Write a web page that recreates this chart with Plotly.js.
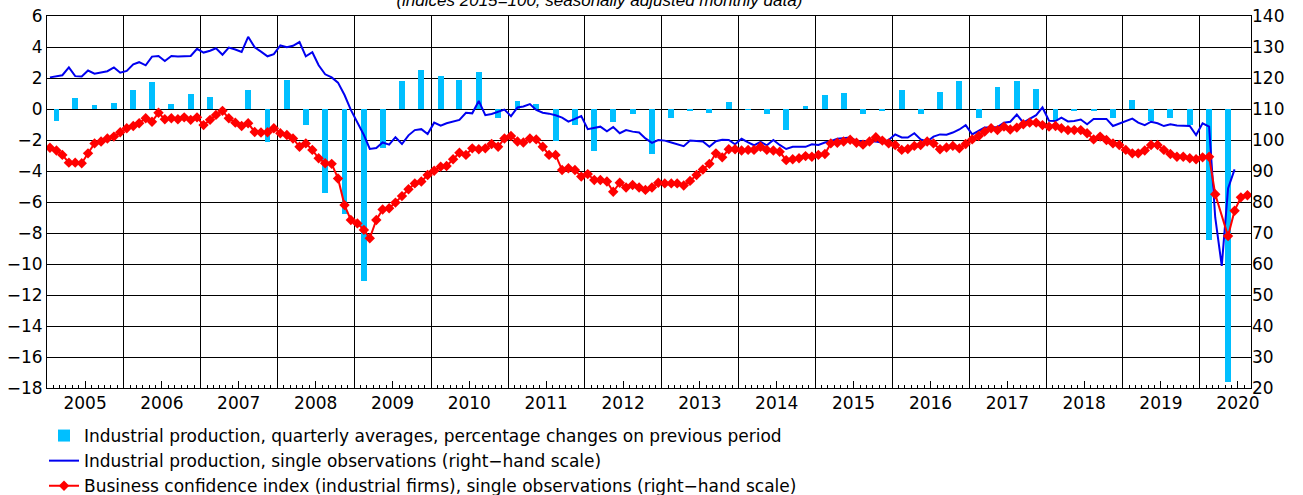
<!DOCTYPE html>
<html>
<head>
<meta charset="utf-8">
<script src="https://cdn.plot.ly/plotly-3.0.1.min.js"></script>
<style>html,body{margin:0;padding:0;background:#fff;}#chart{width:1303px;height:495px;}</style>
</head>
<body>
<div id="chart"></div>
<script>
// ---- Data ----
const startYear = 2005;
const yearLabels = ['2005','2006','2007','2008','2009','2010','2011','2012','2013','2014','2015','2016','2017','2018','2019','2020'];

// Industrial production, quarterly averages, % change on previous period (2005Q1 .. 2020Q2)
const ipQuarterlyChange = [
  -0.75, 0.7, 0.25, 0.4,
  1.2, 1.75, 0.3, 1.0,
  0.8, 0.0, 1.25, -2.1,
  1.9, -1.0, -5.45, -6.8,
  -11.1, -2.5, 1.8, 2.5,
  2.15, 1.9, 2.4, -0.6,
  0.5, 0.35, -2.05, -1.05,
  -2.7, -0.85, -0.3, -2.9,
  -0.55, -0.1, -0.25, 0.45,
  -0.05, -0.3, -1.35, 0.2,
  0.9, 1.05, -0.3, -0.1,
  1.2, -0.35, 1.1, 1.8,
  -0.55, 1.4, 1.8, 1.3,
  -0.7, -0.15, -0.15, -0.55,
  0.6, -0.75, -0.6, -1.0,
  -8.45, -17.6
];

// Industrial production index, monthly (Jan 2005 .. Jun 2020), right-hand scale
const ipMonthly = [
  120.2,120.6,120.9,123.4,120.6,120.5,122.4,121.4,121.9,122.2,123.4,121.7,
  122.3,124.4,125.1,124.1,126.9,127.1,125.5,127.1,126.9,127.0,127.1,129.4,
  128.2,128.8,129.6,127.5,129.8,129.2,128.4,133.3,129.9,128.5,127.0,127.7,
  130.5,129.9,130.4,131.6,127.0,128.3,124.1,121.2,120.2,118.5,114.5,109.7,
  105.9,101.6,97.1,97.4,99.2,98.5,100.9,98.7,101.5,103.2,103.5,101.9,
  105.6,104.6,105.4,106.0,106.5,108.8,108.6,112.6,108.0,108.4,109.0,109.8,
  107.7,110.5,110.8,111.6,109.7,108.8,108.5,108.0,107.2,105.9,106.8,107.7,
  103.5,104.0,104.3,102.8,104.2,102.2,103.2,102.7,102.4,100.5,99.1,100.0,
  99.8,99.2,98.7,98.0,99.8,99.7,99.5,97.8,99.6,100.1,100.0,98.6,
  100.4,99.2,98.3,99.4,98.3,100.0,98.4,97.1,97.8,97.8,97.8,98.6,
  98.4,99.2,99.6,100.4,100.6,100.8,99.7,99.6,99.6,99.5,99.1,100.0,
  101.8,100.8,100.8,102.2,100.2,99.5,101.1,101.8,101.7,102.4,103.4,104.8,
  101.8,102.9,104.0,104.0,104.2,105.6,105.9,108.2,105.6,106.8,108.0,110.5,
  106.2,106.1,107.2,106.0,106.1,106.6,105.1,106.8,106.8,106.8,104.5,105.2,
  106.0,106.9,105.6,104.8,105.9,105.4,104.5,105.1,104.7,104.5,104.5,101.6,
  105.4,104.3,75.0,59.4,84.4,90.5
];

// Business confidence index (industrial firms), monthly (Jan 2005 .. Aug 2020), right-hand scale
const businessConfidence = [
  97.5,96.6,95.2,92.7,92.7,92.5,95.7,98.9,99.5,100.5,101.1,102.5,
  103.8,104.5,105.4,107.0,105.9,108.8,106.7,107.0,106.7,107.3,106.5,107.3,
  104.8,106.5,108.1,109.4,107.0,105.6,104.5,105.4,102.6,102.4,102.5,103.8,
  102.2,101.6,100.5,97.8,98.9,96.8,94.1,92.5,92.3,87.6,79.0,74.2,
  73.1,71.0,68.3,74.2,77.6,78.0,79.8,81.9,84.1,86.0,86.6,88.7,
  90.1,91.4,91.6,93.8,95.9,95.2,97.3,97.0,97.3,98.7,97.8,100.5,
  101.3,99.5,99.2,100.5,100.2,97.8,95.2,95.2,90.3,90.9,90.3,88.2,
  89.0,87.1,87.1,86.6,83.3,86.2,84.7,85.5,84.7,83.9,84.7,86.2,
  86.0,86.0,86.0,85.3,86.8,88.7,90.5,92.3,95.7,94.4,97.0,97.0,
  96.6,96.8,96.8,97.8,96.8,96.6,96.2,93.5,93.8,94.1,94.8,94.6,
  95.2,95.5,98.9,99.1,99.5,100.1,99.1,98.5,99.5,100.9,99.8,98.9,
  98.4,96.8,97.1,98.1,98.4,99.5,98.9,97.0,97.6,98.1,97.3,98.7,
  100.2,101.3,102.7,103.8,103.2,104.3,103.4,104.0,105.1,105.6,105.6,104.8,
  104.3,104.5,103.8,103.2,103.2,103.2,102.2,100.2,101.1,100.0,98.9,98.4,
  96.8,95.7,95.7,96.6,98.4,98.4,96.8,95.5,94.6,94.6,94.1,93.8,
  94.4,94.6,82.5,null,69.0,77.2,81.5,82.2
];

const legendNames = [
  'Industrial production, quarterly averages, percentage changes on previous period',
  'Industrial production, single observations (right\u2212hand scale)',
  'Business confidence index (industrial firms), single observations (right\u2212hand scale)'
];
const titleText = '(indices 2015=100; seasonally adjusted monthly data)';

// ---- Date helpers (category positions) ----
function pad(n){return String(n).padStart(2,'0');}
function monthDate(m){return (startYear+Math.floor(m/12))+'-'+pad(m%12+1)+'-15';}
function quarterDate(q){return (startYear+Math.floor(q/4))+'-'+pad(3*(q%4)+2)+'-15';}

const qDates = ipQuarterlyChange.map((_,i)=>quarterDate(i));
const ipDates = ipMonthly.map((_,i)=>monthDate(i));
const bcDates = businessConfidence.map((_,i)=>monthDate(i));
const midYears = yearLabels.map(y=>y+'-07-01');
const yearStarts = yearLabels.slice(1).map(y=>y+'-01-01');
const xRange = ['2005-01-01','2020-09-01'];

const FONT = 'DejaVu Sans, Verdana, sans-serif';
const TFONT = 'Liberation Sans, Arial, Helvetica, sans-serif';

const traces = [
  {
    type:'bar', name:legendNames[0], x:qDates, y:ipQuarterlyChange,
    xaxis:'x', yaxis:'y', width:2.4e9,
    marker:{color:'#00BFFF', line:{width:0}}, hoverinfo:'x+y'
  },
  {
    type:'scatter', mode:'lines', name:legendNames[1], x:ipDates, y:ipMonthly,
    xaxis:'x2', yaxis:'y2', line:{color:'#0000F0', width:2}
  },
  {
    type:'scatter', mode:'lines+markers', name:legendNames[2], x:bcDates, y:businessConfidence,
    xaxis:'x2', yaxis:'y2', connectgaps:true,
    line:{color:'#FF0000', width:2},
    marker:{symbol:'diamond', size:8, color:'#FF0000'}
  }
];

const layout = {
  width:1303, height:495,
  margin:{l:47, r:52, t:16, b:107, pad:0, autoexpand:false},
  paper_bgcolor:'#ffffff', plot_bgcolor:'#ffffff',
  font:{family:FONT, size:17, color:'#000'},
  showlegend:true,
  bargap:0,
  title:{
    text:'<i>'+titleText+'</i>',
    font:{family:TFONT, size:17, color:'#000'},
    xref:'container', x:0.46, xanchor:'center',
    yref:'container', y:1, yanchor:'middle',
    automargin:false
  },
  xaxis:{
    type:'date', range:xRange, domain:[0,1],
    tickmode:'array', tickvals:midYears, ticktext:yearLabels, tickangle:0,
    ticks:'inside', ticklen:7, tickwidth:1, tickcolor:'#000',
    minor:{dtick:'M1', tick0:'2005-01-01', ticks:'inside', ticklen:3, tickwidth:1, tickcolor:'#000', showgrid:false},
    showgrid:false, zeroline:false,
    showline:true, linecolor:'#000', linewidth:1, mirror:true,
    tickfont:{family:FONT, size:17, color:'#000'},
    automargin:false, fixedrange:true
  },
  xaxis2:{
    type:'date', range:xRange, overlaying:'x', anchor:'y2',
    tickmode:'array', tickvals:yearStarts,
    showgrid:true, gridcolor:'#000', gridwidth:1,
    showticklabels:false, ticks:'', showline:false, zeroline:false,
    automargin:false, fixedrange:true
  },
  yaxis:{
    range:[-18,6], tickmode:'linear', tick0:-18, dtick:2,
    showgrid:true, gridcolor:'#000', gridwidth:1,
    zeroline:false, ticks:'',
    showline:true, linecolor:'#000', linewidth:1, mirror:true,
    tickfont:{family:FONT, size:17, color:'#000'},
    automargin:false, fixedrange:true
  },
  yaxis2:{
    range:[20,140], tickmode:'linear', tick0:20, dtick:10,
    overlaying:'y', side:'right', anchor:'x2',
    showgrid:false, zeroline:false, ticks:'', showline:false,
    tickfont:{family:FONT, size:17, color:'#000'},
    automargin:false, fixedrange:true
  },
  legend:{
    orientation:'v', traceorder:'normal',
    xref:'container', yref:'container',
    x:44/1303, xanchor:'left', y:1-418/495, yanchor:'top',
    bgcolor:'rgba(0,0,0,0)', borderwidth:0,
    font:{family:FONT, size:17, color:'#000'},
    itemclick:false, itemdoubleclick:false
  }
};

Plotly.newPlot('chart', traces, layout, {displayModeBar:false, staticPlot:true});
</script>
</body>
</html>
